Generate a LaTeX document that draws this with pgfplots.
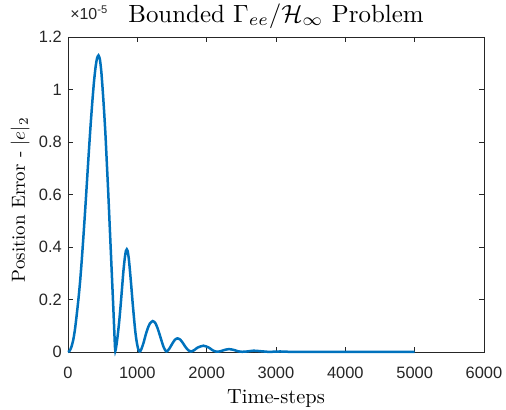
\documentclass[border=0pt]{standalone}
\usepackage{fontspec}
\usepackage{pgfplots}
\pgfplotsset{compat=1.18}
\newfontfamily\tickfont{Liberation Sans}
\definecolor{mblue}{rgb}{0,0.447,0.741}
\definecolor{axgray}{rgb}{0.15,0.15,0.15}
\pgfplotstableread{
x y
0 0
25 0.005
50 0.02
75 0.045
100 0.085
125 0.14
150 0.2
175 0.27
200 0.355
225 0.45
250 0.55
275 0.655
300 0.76
325 0.86
350 0.95
375 1.03
400 1.09
420 1.12
440 1.13
460 1.115
480 1.07
500 1.0
520 0.92
540 0.83
560 0.72
580 0.61
600 0.49
620 0.37
640 0.25
655 0.16
666 0.09
674 0.04
679 0.012
683 0.004
688 0.008
695 0.02
705 0.038
720 0.07
740 0.12
760 0.18
780 0.245
800 0.31
820 0.36
835 0.385
848 0.391
860 0.385
875 0.36
890 0.32
910 0.26
930 0.195
950 0.135
970 0.08
990 0.04
1010 0.014
1025 0.004
1035 0.002
1045 0.004
1060 0.012
1090 0.035
1120 0.065
1150 0.09
1180 0.108
1222 0.118
1260 0.11
1290 0.092
1320 0.068
1350 0.042
1380 0.018
1405 0.006
1418 0.002
1430 0.003
1460 0.012
1500 0.03
1540 0.046
1578 0.052
1620 0.047
1660 0.033
1700 0.017
1740 0.006
1770 0.002
1790 0.003
1820 0.007
1870 0.017
1953 0.024
2030 0.017
2090 0.006
2145 0.001
2200 0.003
2260 0.008
2323 0.011
2390 0.008
2450 0.003
2510 0.0008
2580 0.002
2680 0.005
2780 0.003
2880 0.0008
2960 0.001
3060 0.002
3160 0.001
3250 0.0005
3400 0.0005
3600 0.0004
4000 0.0003
4500 0.0002
5000 0.0002
}\errdata
\begin{document}
\begin{tikzpicture}
\useasboundingbox (-68bp,-58bp) rectangle (438bp,352bp);
\begin{axis}[
  scale only axis,
  width=416bp, height=315bp,
  xmin=0, xmax=6000, ymin=0, ymax=1.2,
  xtick={0,1000,2000,3000,4000,5000,6000},
  ytick={0,0.2,0.4,0.6,0.8,1,1.2},
  scaled x ticks=false,
  tick align=inside,
  major tick length=5bp,
  axis line style={color=axgray, line width=0.8bp},
  every tick/.style={color=axgray, line width=0.8bp},
  /pgf/number format/assume math mode=true,
  /pgf/number format/1000 sep={},
  tick label style={font=\tickfont\fontsize{16.5}{18}\selectfont, text=axgray, inner sep=0pt},
  xticklabel style={anchor=north, yshift=-14.5bp},
  yticklabel style={anchor=east, xshift=-6bp},
  every axis title shift=0pt,
  title={\scalebox{2.5}{Bounded $\Gamma_{ee}/\mathcal{H}_\infty$ Problem}},
  title style={at={(axis description cs:0.5,1.0476)}, anchor=base, inner sep=0pt},
  xlabel={\scalebox{2.05}{Time-steps}},
  xlabel style={at={(axis description cs:0.5,-0.165)}, anchor=base, inner sep=0pt},
  ylabel={\scalebox{1.9}{Position Error - $|e|_2$}},
  ylabel style={at={(axis description cs:-0.1034,0.483)}, anchor=base, inner sep=0pt},
  clip=false,
]
\addplot[color=mblue, line width=2.5bp, smooth, tension=0.4] table[x=x,y=y] {\errdata};
\node[anchor=base west, inner sep=0pt, text=axgray]
  at (axis description cs:0.005,1.055) {\tickfont\fontsize{16}{18}\selectfont ×10\textsuperscript{-5}};
\end{axis}
\end{tikzpicture}
\end{document}
